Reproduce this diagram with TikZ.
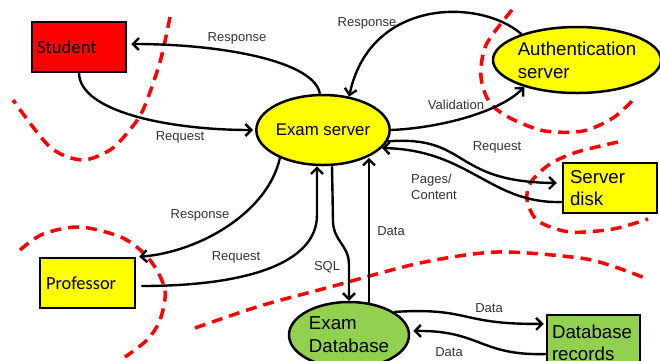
\documentclass[tikz,border=0pt]{standalone}
\usepackage{fontspec}
\setmainfont{Liberation Sans}
\newfontfamily\calibri{Carlito}
\usetikzlibrary{arrows.meta,shapes.geometric}
\definecolor{dfdyellow}{HTML}{FFFF00}
\definecolor{dfdgreen}{HTML}{92D050}
\definecolor{dfdred}{HTML}{FF0000}
\tikzset{
  ent/.style={draw=black, line width=2.5pt, rectangle, inner xsep=5pt, inner ysep=0pt, align=left, font=\fontsize{18.7}{22}\selectfont},
  proc/.style={draw=black, line width=2.5pt, ellipse, inner sep=0pt, align=left, font=\fontsize{18.7}{23}\selectfont},
  arr/.style={line width=2.4pt, -{Straight Barb[length=6pt,width=12pt]}},
  lbl/.style={text=black!80, font=\fontsize{13}{15.5}\selectfont, inner sep=0pt},
  bound/.style={draw=dfdred, line width=3.5pt, dash pattern=on 11pt off 7pt}
}
\begin{document}
\begin{tikzpicture}[x=1pt,y=-1pt]
\useasboundingbox (0,0) rectangle (660,360);
\clip (0,0) rectangle (660,360);
\fill[white] (0,0) rectangle (660,360);

% trust boundaries
\draw[bound] plot[smooth] coordinates {(170,17) (160,62) (143,110) (128,132) (110,150) (82,160) (50,147) (13,100)};
\draw[bound] plot[smooth] coordinates {(512,10) (486,45) (481,77) (490,103) (512,119) (545,131) (583,131) (613,118) (633,100)};
\draw[bound] plot[smooth] coordinates {(618,142) (577,152) (550,164) (531,182) (527,200) (538,221) (570,232) (613,229) (648,219)};
\draw[bound] plot[smooth] coordinates {(20,250) (43,234) (80,227) (123,238) (150,260) (165,290) (160,320) (147,340) (125,357)};
\draw[bound] plot[smooth] coordinates {(195,328) (260,306) (330,287) (420,263) (497,252) (580,258) (615,267) (645,278)};

% nodes
\node[ent, fill=dfdred, font=\calibri\fontsize{18.7}{22}\selectfont, text width=84pt, minimum height=50pt] (student) at (79,47) {Student};
\node[ent, fill=dfdyellow, font=\calibri\fontsize{18.4}{22}\selectfont, text width=83pt, inner xsep=6pt, minimum height=50pt] (prof) at (87.5,283) {Professor};
\node[proc, fill=dfdyellow, minimum width=127pt, minimum height=70pt, font=\fontsize{16.8}{20}\selectfont] (es) at (323,130) {Exam server};
\node[proc, fill=dfdyellow, minimum width=168pt, minimum height=66pt] (auth) at (577,60) {Authentication\\server};
\node[ent, fill=dfdyellow, text width=80pt, inner xsep=7pt, minimum height=50pt] (disk) at (610,188) {Server\\disk};
\node[proc, fill=dfdgreen, minimum width=120pt, minimum height=66pt] (edb) at (349,335) {Exam\\Database};
\node[ent, fill=dfdgreen, text width=83pt, minimum height=56pt] (rec) at (593.5,343) {Database\\records};

% connectors
\draw[arr] (es.95) .. controls (315,62) and (225,44) .. ([xshift=4pt,yshift=3pt]student.east);
\draw[arr] (student.south) .. controls (80,112) and (170,130) .. ([xshift=-2pt]es.west);
\draw[arr] (auth.155) .. controls (480,-2) and (370,-2) .. (es.52);
\draw[arr] (es.east) .. controls (440,128) and (500,112) .. (auth.207);
\draw[arr] (es.-10) .. controls (470,135) and (450,182) .. ([xshift=-5pt,yshift=5pt]disk.west);
\draw[arr] ([yshift=-14pt]disk.west) .. controls (490,204) and (470,150) .. (es.-17);
\draw[arr] (es.213) .. controls (268,212) and (200,252) .. ([xshift=3pt]prof.north east);
\draw[arr] ([xshift=5pt,yshift=-3pt]prof.east) .. controls (250,286) and (317,262) .. (317,215) -- ([xshift=-6pt]es.south);
\draw[arr] ([xshift=9pt]es.south) -- (333,222) .. controls (334,242) and (349,245) .. (349,265) -- (edb.north);
\draw[arr] ([xshift=20pt,yshift=-2pt]edb.north) -- ++(0,-145);
\draw[arr] (edb.27) .. controls (470,307) and (460,325) .. ([xshift=-2pt,yshift=-10pt]rec.north west);
\draw[arr] ([yshift=-11pt]rec.west) .. controls (480,356) and (480,330) .. ([xshift=3pt,yshift=4pt]edb.east);

% labels
\node[lbl] (l1) at (237,38) {Response};
\node[lbl] (l2) at (180,137) {Request};
\node[lbl] (l3) at (367,23) {Response};
\node[lbl] (l4) at (456,105) {Validation};
\node[lbl] (l5) at (497,147) {Request};
\node[lbl, align=left] (l6) at (434,187) {Pages/\\Content};
\node[lbl] (l7) at (200,215) {Response};
\node[lbl] (l8) at (236,257) {Request};
\node[lbl] (l9) at (327,267) {SQL};
\node[lbl] (l10) at (391,231) {Data};
\node[lbl] (l11) at (489,308) {Data};
\node[lbl] (l12) at (449,352) {Data};
\end{tikzpicture}
\end{document}
